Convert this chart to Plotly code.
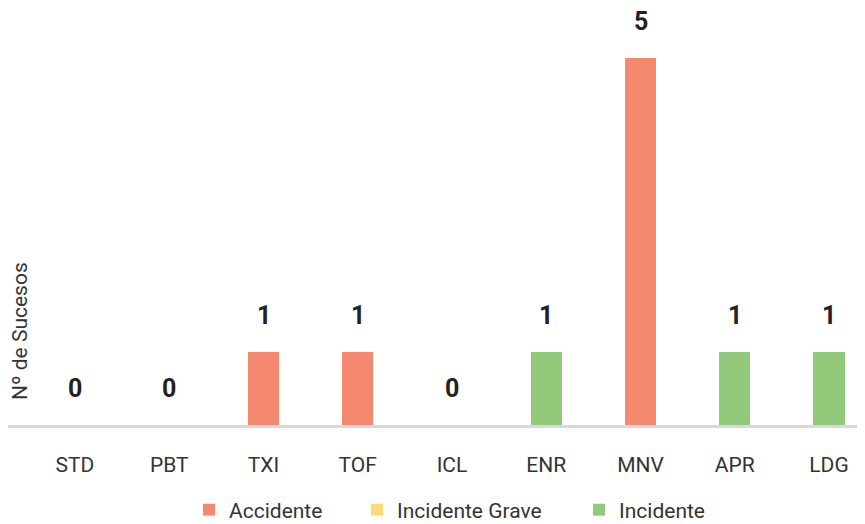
import plotly.graph_objects as go

categorias = ["STD", "PBT", "TXI", "TOF", "ICL", "ENR", "MNV", "APR", "LDG"]
accidente = [0, 0, 1, 1, 0, 0, 5, 0, 0]
incidente_grave = [0, 0, 0, 0, 0, 0, 0, 0, 0]
incidente = [0, 0, 0, 0, 0, 1, 0, 1, 1]
totales = [a + b + c for a, b, c in zip(accidente, incidente_grave, incidente)]

FONT = "Roboto, sans-serif"
W, H = 857, 516  # la página añade 8px de margen

fig = go.Figure()
fig.add_trace(go.Bar(x=categorias, y=accidente, name="Accidente", legend="legend",
                     marker=dict(color="#F4896F", line=dict(width=0)), width=0.33))
fig.add_trace(go.Bar(x=categorias, y=incidente_grave, name="Incidente Grave", legend="legend2",
                     marker=dict(color="#FDD977", line=dict(width=0)), width=0.33))
fig.add_trace(go.Bar(x=categorias, y=incidente, name="Incidente", legend="legend3",
                     marker=dict(color="#92C97A", line=dict(width=0)), width=0.33))

# etiquetas de total sobre cada barra
for cat, tot in zip(categorias, totales):
    fig.add_annotation(x=cat, y=tot, text=f"<b>{tot}</b>", showarrow=False,
                       yshift=37, height=22,
                       font=dict(size=25, color="#222222", family=FONT))

fig.add_annotation(xref="paper", yref="paper", x=12 / W, y=0.2254, text="Nº de Sucesos",
                   textangle=-90, showarrow=False, xanchor="center", yanchor="middle",
                   height=22, font=dict(size=21, color="#333333", family=FONT))

leg = dict(orientation="h", xanchor="left", y=-0.2038, yanchor="middle",
           font=dict(size=21, color="#333333", family=FONT), bgcolor="rgba(0,0,0,0)")

fig.update_layout(
    width=W, height=H,
    margin=dict(l=0, r=0, t=0, b=99, autoexpand=False),
    barmode="stack",
    plot_bgcolor="white", paper_bgcolor="white",
    font=dict(family=FONT, size=20, color="#333333"),
    showlegend=True,
    legend=dict(leg, x=181 / W),
    legend2=dict(leg, x=349 / W),
    legend3=dict(leg, x=571 / W),
    xaxis=dict(range=[-0.711, 8.382], showline=True, linecolor="#D9D9D9", linewidth=3,
               showgrid=False, ticks="", ticklabelstandoff=19,
               tickfont=dict(size=21, color="#333333")),
    yaxis=dict(range=[0, 5.68], showgrid=False, showticklabels=False, zeroline=False,
               showline=False),
)

fig.write_html("out.html")
